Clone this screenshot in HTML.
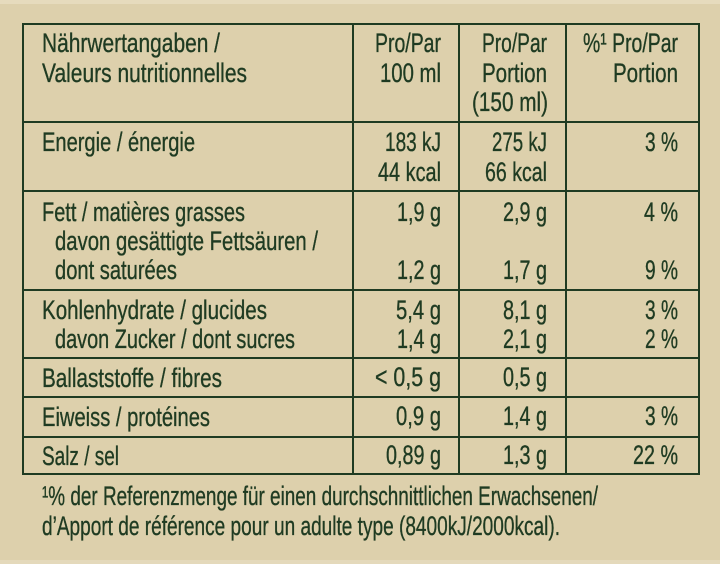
<!DOCTYPE html>
<html><head><meta charset="utf-8"><style>
html,body{margin:0;padding:0;background:#ddd0ac;}
svg{display:block;}
text{font-family:"Liberation Sans",sans-serif;font-size:27px;fill:#1f3b22;stroke:#1f3b22;stroke-width:0.35px;}
</style></head><body>
<svg width="720" height="564" viewBox="0 0 720 564" xmlns="http://www.w3.org/2000/svg">
<rect x="0" y="0" width="720" height="564" fill="#ddd0ac"/>
<rect x="0" y="0" width="720" height="4" fill="#e6dbbd"/>
<rect x="0" y="560" width="720" height="4" fill="#e4d9bb"/>
<g fill="#1f3b22">
<rect x="22" y="23" width="678" height="2"/>
<rect x="22" y="121" width="678" height="2"/>
<rect x="22" y="190" width="678" height="2"/>
<rect x="22" y="289" width="678" height="2"/>
<rect x="22" y="357" width="678" height="2"/>
<rect x="22" y="396" width="678" height="2"/>
<rect x="22" y="436" width="678" height="2"/>
<rect x="22" y="473" width="678" height="2"/>
<rect x="22" y="23" width="2" height="452"/>
<rect x="352" y="23" width="2" height="452"/>
<rect x="458" y="23" width="2" height="452"/>
<rect x="565" y="23" width="2" height="452"/>
<rect x="698" y="23" width="2" height="452"/>
</g>
<!-- column 0 -->
<text x="42" y="52" textLength="178" lengthAdjust="spacingAndGlyphs">Nährwertangaben /</text>
<text x="42" y="82" textLength="205" lengthAdjust="spacingAndGlyphs">Valeurs nutritionnelles</text>
<text x="42" y="151" textLength="153" lengthAdjust="spacingAndGlyphs">Energie / énergie</text>
<text x="42" y="221" textLength="203" lengthAdjust="spacingAndGlyphs">Fett / matières grasses</text>
<text x="55" y="250" textLength="263" lengthAdjust="spacingAndGlyphs">davon gesättigte Fettsäuren /</text>
<text x="55" y="279" textLength="122" lengthAdjust="spacingAndGlyphs">dont saturées</text>
<text x="42" y="319" textLength="225" lengthAdjust="spacingAndGlyphs">Kohlenhydrate / glucides</text>
<text x="55" y="348" textLength="240" lengthAdjust="spacingAndGlyphs">davon Zucker / dont sucres</text>
<text x="42" y="387" textLength="180" lengthAdjust="spacingAndGlyphs">Ballaststoffe / fibres</text>
<text x="42" y="426" textLength="168" lengthAdjust="spacingAndGlyphs">Eiweiss / protéines</text>
<text x="42" y="465" textLength="77" lengthAdjust="spacingAndGlyphs">Salz / sel</text>
<!-- column 1 -->
<g text-anchor="end">
<text x="441" y="52" textLength="66" lengthAdjust="spacingAndGlyphs">Pro/Par</text>
<text x="441" y="82" textLength="61" lengthAdjust="spacingAndGlyphs">100 ml</text>
<text x="441" y="151" textLength="56" lengthAdjust="spacingAndGlyphs">183 kJ</text>
<text x="441" y="181" textLength="63" lengthAdjust="spacingAndGlyphs">44 kcal</text>
<text x="441" y="221" textLength="44" lengthAdjust="spacingAndGlyphs">1,9 g</text>
<text x="441" y="279" textLength="44" lengthAdjust="spacingAndGlyphs">1,2 g</text>
<text x="441" y="319" textLength="45" lengthAdjust="spacingAndGlyphs">5,4 g</text>
<text x="441" y="348" textLength="44" lengthAdjust="spacingAndGlyphs">1,4 g</text>
<text x="441" y="386" textLength="66" lengthAdjust="spacingAndGlyphs">&lt; 0,5 g</text>
<text x="441" y="425" textLength="45" lengthAdjust="spacingAndGlyphs">0,9 g</text>
<text x="441" y="464" textLength="55" lengthAdjust="spacingAndGlyphs">0,89 g</text>
</g>
<!-- column 2 -->
<g text-anchor="end">
<text x="547" y="52" textLength="65" lengthAdjust="spacingAndGlyphs">Pro/Par</text>
<text x="547" y="82" textLength="65" lengthAdjust="spacingAndGlyphs">Portion</text>
<text x="548" y="111" textLength="76" lengthAdjust="spacingAndGlyphs">(150 ml)</text>
<text x="547" y="151" textLength="55" lengthAdjust="spacingAndGlyphs">275 kJ</text>
<text x="547" y="181" textLength="62" lengthAdjust="spacingAndGlyphs">66 kcal</text>
<text x="547" y="221" textLength="44" lengthAdjust="spacingAndGlyphs">2,9 g</text>
<text x="547" y="279" textLength="44" lengthAdjust="spacingAndGlyphs">1,7 g</text>
<text x="547" y="319" textLength="44" lengthAdjust="spacingAndGlyphs">8,1 g</text>
<text x="547" y="348" textLength="44" lengthAdjust="spacingAndGlyphs">2,1 g</text>
<text x="547" y="386" textLength="44" lengthAdjust="spacingAndGlyphs">0,5 g</text>
<text x="547" y="425" textLength="44" lengthAdjust="spacingAndGlyphs">1,4 g</text>
<text x="547" y="464" textLength="44" lengthAdjust="spacingAndGlyphs">1,3 g</text>
</g>
<!-- column 3 -->
<g text-anchor="end">
<text x="678" y="52" textLength="95" lengthAdjust="spacingAndGlyphs">%¹ Pro/Par</text>
<text x="678" y="82" textLength="65" lengthAdjust="spacingAndGlyphs">Portion</text>
<text x="678" y="151" textLength="33" lengthAdjust="spacingAndGlyphs">3 %</text>
<text x="678" y="221" textLength="34" lengthAdjust="spacingAndGlyphs">4 %</text>
<text x="678" y="279" textLength="33" lengthAdjust="spacingAndGlyphs">9 %</text>
<text x="678" y="319" textLength="33" lengthAdjust="spacingAndGlyphs">3 %</text>
<text x="678" y="348" textLength="33" lengthAdjust="spacingAndGlyphs">2 %</text>
<text x="678" y="425" textLength="33" lengthAdjust="spacingAndGlyphs">3 %</text>
<text x="678" y="464" textLength="45" lengthAdjust="spacingAndGlyphs">22 %</text>
</g>
<!-- footnote -->
<text x="42" y="505" textLength="556" lengthAdjust="spacingAndGlyphs">¹% der Referenzmenge für einen durchschnittlichen Erwachsenen/</text>
<text x="42" y="535" textLength="518" lengthAdjust="spacingAndGlyphs">d’Apport de référence pour un adulte type (8400kJ/2000kcal).</text>
</svg>
</body></html>
